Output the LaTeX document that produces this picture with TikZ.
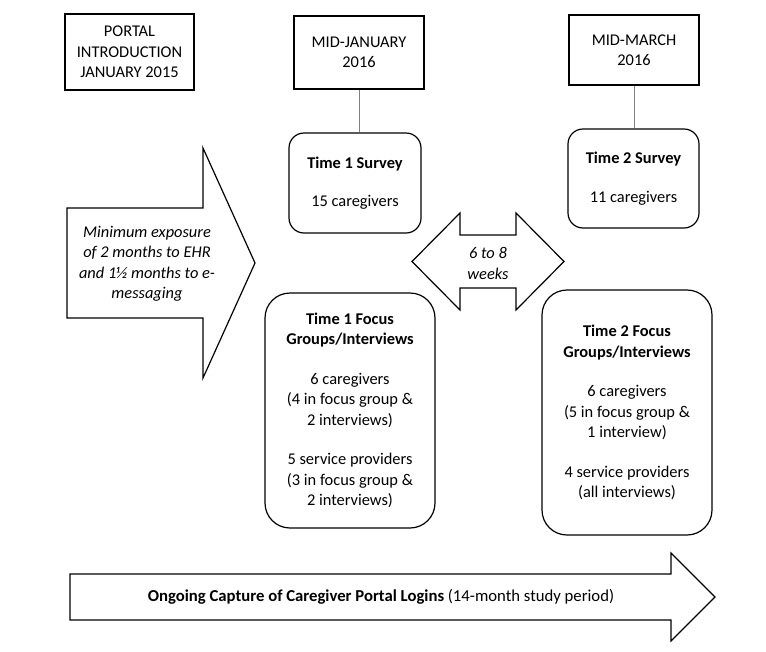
\documentclass[tikz,border=0pt]{standalone}
\usepackage{fontspec}
\setmainfont{Carlito}
\usetikzlibrary{positioning}

\tikzset{
    txt/.style={font=\fontsize{16.4}{20.5}\selectfont},
    datebox/.style={draw,line width=1.2pt,align=center,inner sep=0pt,txt},
    stagebox/.style={draw,line width=1.2pt,rounded corners=15pt,align=center,inner sep=0pt,txt},
    bigarrow/.style={draw,line width=1.2pt,line join=miter},
    link/.style={draw=gray,line width=1pt}
}

\begin{document}
\begin{tikzpicture}[x=1pt,y=-1pt]
    \useasboundingbox (0,0) rectangle (766,651);

    % date boxes along the top
    \node[datebox,minimum width=129pt,minimum height=76pt] (portal) at (129.5,52) {PORTAL\\INTRODUCTION\\JANUARY 2015};
    \node[datebox,minimum width=130pt,minimum height=73pt] (jan) at (359,52.5) {MID-JANUARY\\2016};
    \node[datebox,minimum width=130pt,minimum height=70pt] (march) at (634,50) {MID-MARCH\\2016};

    % surveys
    \node[stagebox,minimum width=132pt,minimum height=100pt] (survey1) at (355,183) {\textbf{Time 1 Survey}\\[17pt]15 caregivers};
    \node[stagebox,minimum width=131pt,minimum height=99pt] (survey2) at (633.5,178.5) {\textbf{Time 2 Survey}\\[19pt]11 caregivers};

    \draw[link] (jan.south) -- (jan.south |- survey1.north);
    \draw[link] (march.south) -- (march.south |- survey2.north);

    % focus groups
    \node[stagebox,rounded corners=25pt,minimum width=170pt,minimum height=235pt] (focus1) at (350,410.5) {\textbf{Time 1 Focus}\\\textbf{Groups/Interviews}\\[19pt]6 caregivers\\(4 in focus group \&\\2 interviews)\\[19pt]5 service providers\\(3 in focus group \&\\2 interviews)};
    \node[stagebox,rounded corners=25pt,minimum width=170pt,minimum height=245pt] (focus2) at (627,412.5) {\textbf{Time 2 Focus}\\\textbf{Groups/Interviews}\\[19pt]6 caregivers\\(5 in focus group \&\\1 interview)\\[19pt]4 service providers\\(all interviews)};

    % exposure arrow
    \coordinate (e1) at (67,208);\coordinate (e2) at (203,208);\coordinate (e3) at (203,148);\coordinate (e4) at (255,263);\coordinate (e5) at (203,378);\coordinate (e6) at (203,318);\coordinate (e7) at (67,318);
    \draw[bigarrow] (e1) -- (e2) -- (e3) -- (e4) -- (e5) -- (e6) -- (e7) -- cycle;
    \node[txt,align=center,font=\fontsize{16.4}{20.5}\selectfont\itshape] (exposure) at (147,264) {Minimum exposure\\of 2 months to EHR\\and 1\textonehalf{} months to e-\\messaging};

    % gap between the two waves
    \coordinate (g1) at (412,261.5);\coordinate (g2) at (460,213);\coordinate (g3) at (460,235);\coordinate (g4) at (516,235);\coordinate (g5) at (516,213);\coordinate (g6) at (564,261.5);\coordinate (g7) at (516,310);\coordinate (g8) at (516,288);\coordinate (g9) at (460,288);\coordinate (g10) at (460,310);
    \draw[bigarrow] (g1) -- (g2) -- (g3) -- (g4) -- (g5) -- (g6) -- (g7) -- (g8) -- (g9) -- (g10) -- cycle;
    \node[txt,align=center,font=\fontsize{16.4}{20.5}\selectfont\itshape] (gap) at (488,263.5) {6 to 8\\weeks};

    % portal logins over the whole period
    \coordinate (l1) at (70,574);\coordinate (l2) at (671,574);\coordinate (l3) at (671,553);\coordinate (l4) at (715,597);\coordinate (l5) at (671,641);\coordinate (l6) at (671,620);\coordinate (l7) at (70,620);
    \draw[bigarrow] (l1) -- (l2) -- (l3) -- (l4) -- (l5) -- (l6) -- (l7) -- cycle;
    \node[font=\fontsize{16.7}{20.5}\selectfont] (logins) at (381,597) {\textbf{Ongoing Capture of Caregiver Portal Logins} (14-month study period)};
\end{tikzpicture}
\end{document}
